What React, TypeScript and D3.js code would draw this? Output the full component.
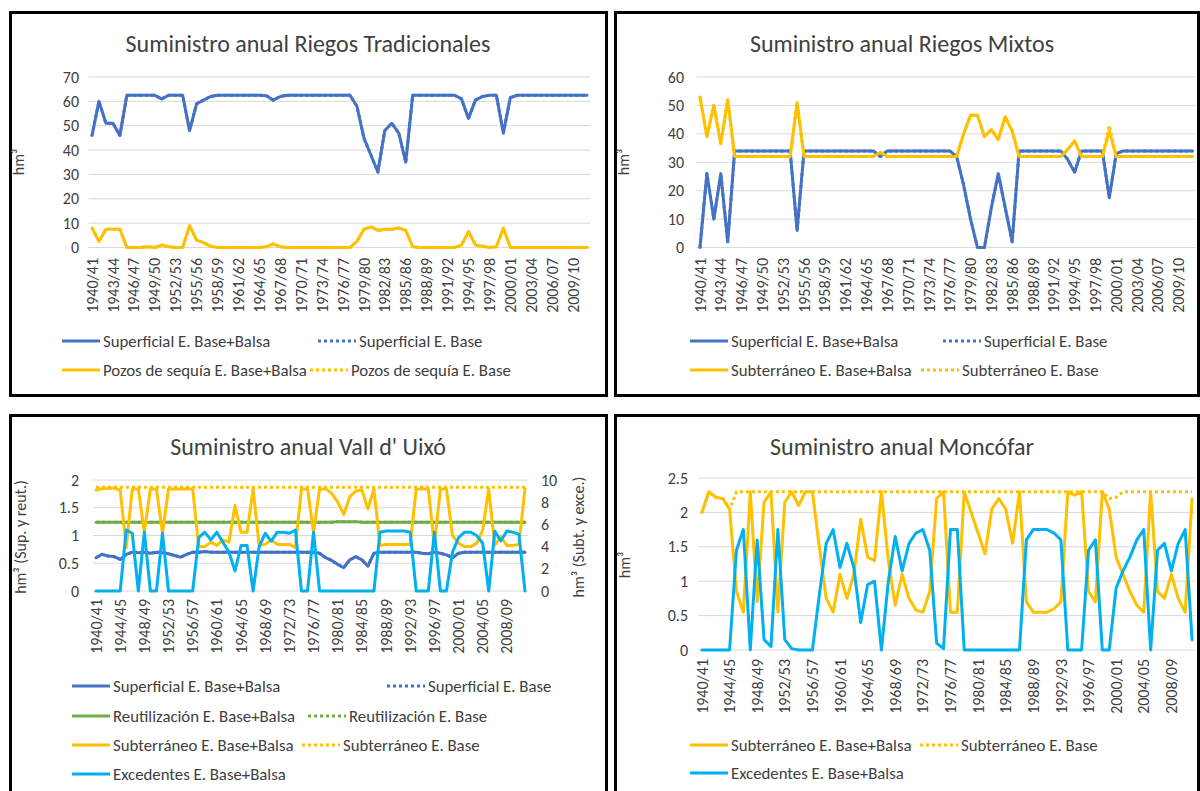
import React from "react";
import * as d3 from "d3";

const FONT = "Carlito, Calibri, Lato, 'Noto Sans', sans-serif";
const C_BLUE = "#4472C4";
const C_YEL = "#FFC000";
const C_GRN = "#70AD47";
const C_LBL = "#00B0F0";

const years = [
  "1940/41","1941/42","1942/43","1943/44","1944/45","1945/46","1946/47","1947/48","1948/49","1949/50",
  "1950/51","1951/52","1952/53","1953/54","1954/55","1955/56","1956/57","1957/58","1958/59","1959/60",
  "1960/61","1961/62","1962/63","1963/64","1964/65","1965/66","1966/67","1967/68","1968/69","1969/70",
  "1970/71","1971/72","1972/73","1973/74","1974/75","1975/76","1976/77","1977/78","1978/79","1979/80",
  "1980/81","1981/82","1982/83","1983/84","1984/85","1985/86","1986/87","1987/88","1988/89","1989/90",
  "1990/91","1991/92","1992/93","1993/94","1994/95","1995/96","1996/97","1997/98","1998/99","1999/00",
  "2000/01","2001/02","2002/03","2003/04","2004/05","2005/06","2006/07","2007/08","2008/09","2009/10",
  "2010/11","2011/12"
];

// ---- Riegos Tradicionales ----
const rtTicks = [0, 10, 20, 30, 40, 50, 60, 70];
const rtSup = [46, 60, 51, 51, 46, 62.5, 62.5, 62.5, 62.5, 62.5,
  61, 62.5, 62.5, 62.5, 48, 59, 60.5, 62, 62.5, 62.5,
  62.5, 62.5, 62.5, 62.5, 62.5, 62.3, 60.5, 62, 62.5, 62.5,
  62.5, 62.5, 62.5, 62.5, 62.5, 62.5, 62.5, 62.5, 58, 45,
  38, 31, 48, 51, 47, 35, 62.5, 62.5, 62.5, 62.5,
  62.5, 62.5, 62.5, 61, 53, 60.5, 62, 62.5, 62.5, 47,
  61.5, 62.5, 62.5, 62.5, 62.5, 62.5, 62.5, 62.5, 62.5, 62.5,
  62.5, 62.5];
const rtSupBase = [46, 60, 51, 51, 46, 62.5, 62.5, 62.5, 62.5, 62.5,
  61, 62.5, 62.5, 62.5, 48, 59, 60.5, 62, 62.5, 62.5,
  62.5, 62.5, 62.5, 62.5, 62.5, 62.3, 60.5, 62, 62.5, 62.5,
  62.5, 62.5, 62.5, 62.5, 62.5, 62.5, 62.5, 62.5, 58, 45,
  38, 31, 48, 51, 47, 35, 62.5, 62.5, 62.5, 62.5,
  62.5, 62.5, 62.5, 61, 53, 60.5, 62, 62.5, 62.5, 47,
  61.5, 62.5, 62.5, 62.5, 62.5, 62.5, 62.5, 62.5, 62.5, 62.5,
  62.5, 62.5];
const rtPozos = [8, 2.5, 7.5, 7.5, 7.5, 0, 0, 0, 0.3, 0,
  1, 0.3, 0, 0, 9, 3, 2, 0.5, 0, 0,
  0, 0, 0, 0, 0, 0.3, 1.5, 0.3, 0, 0,
  0, 0, 0, 0, 0, 0, 0, 0, 2.5, 7.5,
  8.5, 7, 7.5, 7.5, 8, 7, 0.3, 0, 0, 0,
  0, 0, 0, 1, 6.5, 1, 0.5, 0, 0.3, 8,
  0, 0, 0, 0, 0, 0, 0, 0, 0, 0,
  0, 0];
const rtPozosBase = [8, 2.5, 7.5, 7.5, 7.5, 0, 0, 0, 0.3, 0,
  1, 0.3, 0, 0, 9, 3, 2, 0.5, 0, 0,
  0, 0, 0, 0, 0, 0.3, 1.5, 0.3, 0, 0,
  0, 0, 0, 0, 0, 0, 0, 0, 2.5, 7.5,
  8.5, 7, 7.5, 7.5, 8, 7, 0.3, 0, 0, 0,
  0, 0, 0, 1, 6.5, 1, 0.5, 0, 0.3, 8,
  0, 0, 0, 0, 0, 0, 0, 0, 0, 0,
  0, 0];

// ---- Riegos Mixtos ----
const rmTicks = [0, 10, 20, 30, 40, 50, 60];
const rmSup = [0, 26, 10, 26, 2, 34, 34, 34, 34, 34,
  34, 34, 34, 34, 6, 34, 34, 34, 34, 34,
  34, 34, 34, 34, 34, 34, 32, 34, 34, 34,
  34, 34, 34, 34, 34, 34, 34, 32, 22, 10,
  0, 0, 14, 26, 14, 2, 34, 34, 34, 34,
  34, 34, 34, 31, 26.5, 34, 34, 34, 34, 17.5,
  33, 34, 34, 34, 34, 34, 34, 34, 34, 34,
  34, 34];
const rmSupBase = [0, 26, 10, 26, 2, 34, 34, 34, 34, 34,
  34, 34, 34, 34, 6, 34, 34, 34, 34, 34,
  34, 34, 34, 34, 34, 34, 32, 34, 34, 34,
  34, 34, 34, 34, 34, 34, 34, 32, 22, 10,
  0, 0, 14, 26, 14, 2, 34, 34, 34, 34,
  34, 34, 34, 31, 26.5, 34, 34, 34, 34, 17.5,
  33, 34, 34, 34, 34, 34, 34, 34, 34, 34,
  34, 34];
const rmSub = [53, 39, 50, 36.5, 52, 32, 32, 32, 32, 32,
  32, 32, 32, 32, 51, 32, 32, 32, 32, 32,
  32, 32, 32, 32, 32, 32, 33.5, 32, 32, 32,
  32, 32, 32, 32, 32, 32, 32, 32, 40, 46.5,
  46.5, 39, 41.5, 38, 46, 41, 32, 32, 32, 32,
  32, 32, 32, 34.5, 37.5, 32, 32, 32, 32, 41,
  32, 32, 32, 32, 32, 32, 32, 32, 32, 32,
  32, 32];
const rmSubBase = [53, 39, 50, 36.5, 52, 32, 32, 32, 32, 32,
  32, 32, 32, 32, 51, 32, 32, 32, 32, 32,
  32, 32, 32, 32, 32, 32, 33.5, 32, 32, 32,
  32, 32, 32, 32, 32, 32, 32, 32, 40, 46.5,
  46.5, 39, 41.5, 38, 46, 41, 32, 32, 32, 32,
  32, 32, 32, 34.5, 37.5, 32, 32, 32, 32, 43,
  32, 32, 32, 32, 32, 32, 32, 32, 32, 32,
  32, 32];

// ---- Vall d' Uixó ----
const vuTicksL = [0, 0.5, 1, 1.5, 2];
const vuTicksR = [0, 2, 4, 6, 8, 10];
const vuSup = [0.6, 0.66, 0.63, 0.62, 0.57, 0.66, 0.7, 0.69, 0.7, 0.68,
  0.7, 0.69, 0.67, 0.64, 0.61, 0.66, 0.7, 0.7, 0.71, 0.7,
  0.7, 0.7, 0.7, 0.7, 0.7, 0.7, 0.7, 0.7, 0.7, 0.7,
  0.7, 0.7, 0.7, 0.7, 0.7, 0.7, 0.7, 0.68, 0.6, 0.55,
  0.48, 0.42, 0.56, 0.62, 0.56, 0.45, 0.68, 0.7, 0.7, 0.7,
  0.7, 0.7, 0.7, 0.7, 0.68, 0.67, 0.7, 0.68, 0.65, 0.6,
  0.68, 0.7, 0.7, 0.7, 0.7, 0.7, 0.7, 0.7, 0.7, 0.7,
  0.7, 0.7];
const vuSupBase = [0.6, 0.66, 0.63, 0.62, 0.57, 0.66, 0.7, 0.69, 0.7, 0.68,
  0.7, 0.69, 0.67, 0.64, 0.61, 0.66, 0.7, 0.7, 0.71, 0.7,
  0.7, 0.7, 0.7, 0.7, 0.7, 0.7, 0.7, 0.7, 0.7, 0.7,
  0.7, 0.7, 0.7, 0.7, 0.7, 0.7, 0.7, 0.68, 0.6, 0.55,
  0.48, 0.42, 0.56, 0.62, 0.56, 0.45, 0.68, 0.7, 0.7, 0.7,
  0.7, 0.7, 0.7, 0.7, 0.68, 0.67, 0.7, 0.68, 0.65, 0.6,
  0.68, 0.7, 0.7, 0.7, 0.7, 0.7, 0.7, 0.7, 0.7, 0.7,
  0.7, 0.7];
const vuReu = [1.24, 1.24, 1.24, 1.24, 1.24, 1.24, 1.24, 1.24, 1.24, 1.24,
  1.24, 1.24, 1.24, 1.24, 1.24, 1.24, 1.24, 1.24, 1.24, 1.24,
  1.24, 1.24, 1.24, 1.24, 1.24, 1.24, 1.24, 1.24, 1.24, 1.24,
  1.24, 1.24, 1.24, 1.24, 1.24, 1.24, 1.24, 1.24, 1.24, 1.24,
  1.25, 1.25, 1.25, 1.25, 1.24, 1.24, 1.24, 1.24, 1.24, 1.24,
  1.24, 1.24, 1.24, 1.24, 1.24, 1.24, 1.24, 1.24, 1.24, 1.24,
  1.24, 1.24, 1.24, 1.24, 1.24, 1.24, 1.24, 1.24, 1.24, 1.24,
  1.24, 1.24];
const vuReuBase = [1.24, 1.24, 1.24, 1.24, 1.24, 1.24, 1.24, 1.24, 1.24, 1.24,
  1.24, 1.24, 1.24, 1.24, 1.24, 1.24, 1.24, 1.24, 1.24, 1.24,
  1.24, 1.24, 1.24, 1.24, 1.24, 1.24, 1.24, 1.24, 1.24, 1.24,
  1.24, 1.24, 1.24, 1.24, 1.24, 1.24, 1.24, 1.24, 1.24, 1.24,
  1.25, 1.25, 1.25, 1.25, 1.24, 1.24, 1.24, 1.24, 1.24, 1.24,
  1.24, 1.24, 1.24, 1.24, 1.24, 1.24, 1.24, 1.24, 1.24, 1.24,
  1.24, 1.24, 1.24, 1.24, 1.24, 1.24, 1.24, 1.24, 1.24, 1.24,
  1.24, 1.24];
const vuSub = [9.1, 9.2, 9.25, 9.25, 9.1, 3.9, 9.2, 9.2, 5.3, 9.2,
  9.2, 5.2, 9.2, 9.2, 9.2, 9.2, 9.2, 4.0, 4.0, 4.4,
  4.1, 4.6, 4.4, 7.7, 5.3, 5.3, 9.2, 4.1, 4.2, 4.6,
  4.2, 4.2, 4.2, 3.9, 9.2, 9.2, 5.3, 9.2, 9.2, 8.8,
  8.0, 6.9, 8.5, 9.0, 9.1, 7.4, 9.2, 4.1, 4.2, 4.2,
  4.2, 4.2, 4.2, 9.2, 9.2, 9.2, 4.1, 9.2, 9.2, 5.0,
  4.3, 4.0, 4.0, 4.3, 5.5, 9.2, 4.1, 4.9, 4.1, 4.1,
  4.2, 9.2];
const vuSubBase = [9.35, 9.35, 9.35, 9.35, 9.35, 9.35, 9.35, 9.35, 9.35, 9.35,
  9.35, 9.35, 9.35, 9.35, 9.35, 9.35, 9.35, 9.35, 9.35, 9.35,
  9.35, 9.35, 9.35, 9.35, 9.35, 9.35, 9.35, 9.35, 9.35, 9.35,
  9.35, 9.35, 9.35, 9.35, 9.35, 9.35, 9.35, 9.35, 9.35, 9.35,
  9.35, 9.35, 9.35, 9.35, 9.35, 9.35, 9.35, 9.35, 9.35, 9.35,
  9.35, 9.35, 9.35, 9.35, 9.35, 9.35, 9.35, 9.35, 9.35, 9.35,
  9.35, 9.35, 9.35, 9.35, 9.35, 9.35, 9.35, 9.35, 9.35, 9.35,
  9.35, 9.35];
const vuExc = [0, 0, 0, 0, 0, 5.5, 5.2, 0, 5.3, 0,
  0, 5.2, 0, 0, 0, 0, 0, 4.8, 5.3, 4.6,
  5.3, 4.4, 3.5, 1.8, 4.1, 4.1, 0, 4.0, 5.2, 4.5,
  5.3, 5.3, 5.2, 5.5, 0, 0, 5.3, 0, 0, 0,
  0, 0, 0, 0, 0, 0, 0, 5.3, 5.4, 5.4,
  5.4, 5.4, 5.3, 0, 0, 0, 5.3, 0, 0, 3.5,
  4.8, 5.3, 5.3, 5.0, 4.3, 0, 5.4, 4.5, 5.4, 5.3,
  5.1, 0];

// ---- Moncófar ----
const moTicks = [0, 0.5, 1, 1.5, 2, 2.5];
const moSub = [2.0, 2.3, 2.22, 2.2, 2.05, 0.85, 0.55, 2.3, 0.7, 2.15,
  2.3, 0.55, 2.15, 2.3, 2.1, 2.3, 2.3, 1.5, 0.75, 0.55,
  1.1, 0.75, 1.1, 1.9, 1.35, 1.3, 2.3, 1.3, 0.65, 1.1,
  0.75, 0.58, 0.55, 0.85, 2.2, 2.3, 0.55, 0.55, 2.3, 2.0,
  1.7, 1.4, 2.05, 2.2, 2.05, 1.55, 2.3, 0.7, 0.55, 0.55,
  0.55, 0.6, 0.7, 2.3, 2.25, 2.3, 0.85, 0.7, 2.3, 2.05,
  1.35, 1.1, 0.85, 0.65, 0.55, 2.3, 0.85, 0.75, 1.1, 0.75,
  0.55, 2.2];
const moSubBase = [2.0, 2.3, 2.22, 2.2, 2.05, 2.3, 2.3, 2.3, 2.3, 2.3,
  2.3, 2.3, 2.3, 2.3, 2.3, 2.3, 2.3, 2.3, 2.3, 2.3,
  2.3, 2.3, 2.3, 2.3, 2.3, 2.3, 2.3, 2.3, 2.3, 2.3,
  2.3, 2.3, 2.3, 2.3, 2.3, 2.3, 2.3, 2.3, 2.3, 2.3,
  2.3, 2.3, 2.3, 2.3, 2.3, 2.3, 2.3, 2.3, 2.3, 2.3,
  2.3, 2.3, 2.3, 2.3, 2.3, 2.3, 2.3, 2.3, 2.3, 2.2,
  2.22, 2.3, 2.3, 2.3, 2.3, 2.3, 2.3, 2.3, 2.3, 2.3,
  2.3, 2.3];
const moExc = [0, 0, 0, 0, 0, 1.45, 1.75, 0, 1.6, 0.15,
  0.05, 1.75, 0.15, 0.02, 0, 0, 0, 0.8, 1.55, 1.75,
  1.2, 1.55, 1.2, 0.4, 0.95, 1.0, 0, 1.0, 1.65, 1.15,
  1.55, 1.7, 1.75, 1.45, 0.1, 0.02, 1.75, 1.75, 0, 0,
  0, 0, 0, 0, 0, 0, 0, 1.6, 1.75, 1.75,
  1.75, 1.7, 1.6, 0, 0, 0, 1.45, 1.6, 0, 0,
  0.9, 1.15, 1.35, 1.6, 1.75, 0, 1.45, 1.55, 1.15, 1.55,
  1.75, 0.15];

type Series = { values: number[]; color: string; dotted?: boolean; right?: boolean };
type Leg = { label: string; color: string; dotted?: boolean; x: number; y: number };
type Cfg = {
  box: number[];
  title: string; titleX: number; titleY: number;
  gx0: number; gx1: number; yBot: number; yTop: number;
  yL: number[]; ticksL: number[]; tickLX: number;
  yR?: number[]; ticksR?: number[]; tickRX?: number;
  titleL: string; titleLX: number; titleLY: number;
  titleR?: string; titleRX?: number; titleRY?: number;
  every: number; labelTop: number;
  series: Series[];
  legend: Leg[];
};

const TXT = "#404040";
const FS_TITLE = 24;
const FS_TICK = 16;
const FS_LEG = 16.8;
const FS_AX = 16;

function Panel({ c }: { c: Cfg }) {
  const x = d3.scalePoint<string>().domain(years).range([c.gx0, c.gx1]).padding(0.5);
  const yL = d3.scaleLinear().domain(c.yL).range([c.yBot, c.yTop]);
  const yR = c.yR ? d3.scaleLinear().domain(c.yR).range([c.yBot, c.yTop]) : yL;
  return (
    <g>
      <rect x={c.box[0]} y={c.box[1]} width={c.box[2]} height={c.box[3]} fill="#fff" stroke="#000" strokeWidth={3} />
      <text x={c.titleX} y={c.titleY} textAnchor="middle" fontSize={FS_TITLE} fill={TXT}>{c.title}</text>
      {c.ticksL.map((t) => (
        <line key={"g" + t} x1={c.gx0} x2={c.gx1} y1={yL(t)} y2={yL(t)} stroke="#d9d9d9" strokeWidth={1} />
      ))}
      {c.ticksL.map((t) => (
        <text key={"tl" + t} x={c.tickLX} y={yL(t)} dy="0.35em" textAnchor="end" fontSize={FS_TICK} fill={TXT}>{String(t)}</text>
      ))}
      {c.ticksR && c.ticksR.map((t) => (
        <text key={"tr" + t} x={c.tickRX} y={yR(t)} dy="0.35em" textAnchor="start" fontSize={FS_TICK} fill={TXT}>{String(t)}</text>
      ))}
      <text transform={`translate(${c.titleLX},${c.titleLY}) rotate(-90)`} textAnchor="middle" fontSize={FS_AX} fill={TXT}>{c.titleL}</text>
      {c.titleR && (
        <text transform={`translate(${c.titleRX},${c.titleRY}) rotate(-90)`} textAnchor="middle" fontSize={FS_AX} fill={TXT}>{c.titleR}</text>
      )}
      {years.map((yr, i) => i % c.every === 0 ? (
        <text key={yr} transform={`translate(${x(yr)},${c.labelTop}) rotate(-90)`} textAnchor="end" dy="0.35em" fontSize={FS_TICK} fill={TXT}>{yr}</text>
      ) : null)}
      {c.series.map((s, k) => {
        const sc = s.right ? yR : yL;
        const line = d3.line<number>().x((_, i) => x(years[i]) as number).y((d) => sc(d));
        return (
          <path key={k} d={line(s.values) || ""} fill="none" stroke={s.color} strokeWidth={3}
            strokeLinejoin="round" strokeLinecap={s.dotted ? "butt" : "round"}
            strokeDasharray={s.dotted ? "3 3" : undefined} />
        );
      })}
      {c.legend.map((l, k) => (
        <g key={"l" + k}>
          <line x1={l.x} x2={l.x + 38} y1={l.y} y2={l.y} stroke={l.color} strokeWidth={3}
            strokeDasharray={l.dotted ? "3 3" : undefined} />
          <text x={l.x + 41} y={l.y} dy="0.35em" fontSize={FS_LEG} fill={TXT}>{l.label}</text>
        </g>
      ))}
    </g>
  );
}

const panels: Cfg[] = [
  {
    box: [10.5, 12.5, 596, 383],
    title: "Suministro anual Riegos Tradicionales", titleX: 308, titleY: 52,
    gx0: 88.5, gx1: 590.5, yBot: 247.5, yTop: 77,
    yL: [0, 70], ticksL: rtTicks, tickLX: 79,
    titleL: "hm³", titleLX: 24, titleLY: 162,
    every: 3, labelTop: 258,
    series: [
      { values: rtSup, color: C_BLUE },
      { values: rtSupBase, color: C_BLUE, dotted: true },
      { values: rtPozos, color: C_YEL },
      { values: rtPozosBase, color: C_YEL, dotted: true },
    ],
    legend: [
      { label: "Superficial E. Base+Balsa", color: C_BLUE, x: 62, y: 341 },
      { label: "Superficial E. Base", color: C_BLUE, dotted: true, x: 318, y: 341 },
      { label: "Pozos de sequía E. Base+Balsa", color: C_YEL, x: 62, y: 370 },
      { label: "Pozos de sequía E. Base", color: C_YEL, dotted: true, x: 310, y: 370 },
    ],
  },
  {
    box: [615.5, 12.5, 583, 383],
    title: "Suministro anual Riegos Mixtos", titleX: 902, titleY: 52,
    gx0: 696.5, gx1: 1196, yBot: 247.5, yTop: 77,
    yL: [0, 60], ticksL: rmTicks, tickLX: 684,
    titleL: "hm³", titleLX: 629, titleLY: 162,
    every: 3, labelTop: 258,
    series: [
      { values: rmSup, color: C_BLUE },
      { values: rmSupBase, color: C_BLUE, dotted: true },
      { values: rmSub, color: C_YEL },
      { values: rmSubBase, color: C_YEL, dotted: true },
    ],
    legend: [
      { label: "Superficial E. Base+Balsa", color: C_BLUE, x: 690, y: 341 },
      { label: "Superficial E. Base", color: C_BLUE, dotted: true, x: 943, y: 341 },
      { label: "Subterráneo E. Base+Balsa", color: C_YEL, x: 690, y: 370 },
      { label: "Subterráneo E. Base", color: C_YEL, dotted: true, x: 921, y: 370 },
    ],
  },
  {
    box: [10.5, 415.5, 596, 390],
    title: "Suministro anual Vall d' Uixó", titleX: 308, titleY: 455,
    gx0: 93, gx1: 528, yBot: 591, yTop: 480,
    yL: [0, 2], ticksL: vuTicksL, tickLX: 79,
    yR: [0, 10], ticksR: vuTicksR, tickRX: 541,
    titleL: "hm³ (Sup. y reut.)", titleLX: 26, titleLY: 537,
    titleR: "hm³ (Subt. y exce.)", titleRX: 584, titleRY: 537,
    every: 4, labelTop: 599,
    series: [
      { values: vuSup, color: C_BLUE },
      { values: vuSupBase, color: C_BLUE, dotted: true },
      { values: vuReu, color: C_GRN },
      { values: vuReuBase, color: C_GRN, dotted: true },
      { values: vuSub, color: C_YEL, right: true },
      { values: vuSubBase, color: C_YEL, dotted: true, right: true },
      { values: vuExc, color: C_LBL, right: true },
    ],
    legend: [
      { label: "Superficial E. Base+Balsa", color: C_BLUE, x: 72, y: 686 },
      { label: "Superficial E. Base", color: C_BLUE, dotted: true, x: 387, y: 686 },
      { label: "Reutilización E. Base+Balsa", color: C_GRN, x: 72, y: 716 },
      { label: "Reutilización E. Base", color: C_GRN, dotted: true, x: 308, y: 716 },
      { label: "Subterráneo E. Base+Balsa", color: C_YEL, x: 72, y: 745 },
      { label: "Subterráneo E. Base", color: C_YEL, dotted: true, x: 302, y: 745 },
      { label: "Excedentes E. Base+Balsa", color: C_LBL, x: 72, y: 774 },
    ],
  },
  {
    box: [615.5, 415.5, 583, 390],
    title: "Suministro anual Moncófar", titleX: 902, titleY: 455,
    gx0: 698.5, gx1: 1195.5, yBot: 650, yTop: 478,
    yL: [0, 2.5], ticksL: moTicks, tickLX: 688,
    titleL: "hm³", titleLX: 630, titleLY: 565,
    every: 4, labelTop: 659,
    series: [
      { values: moSub, color: C_YEL },
      { values: moSubBase, color: C_YEL, dotted: true },
      { values: moExc, color: C_LBL },
    ],
    legend: [
      { label: "Subterráneo E. Base+Balsa", color: C_YEL, x: 690, y: 745 },
      { label: "Subterráneo E. Base", color: C_YEL, dotted: true, x: 920, y: 745 },
      { label: "Excedentes E. Base+Balsa", color: C_LBL, x: 690, y: 773 },
    ],
  },
];

export default function App() {
  return (
    <svg width={1200} height={791} viewBox="0 0 1200 791"
      style={{ position: "absolute", left: 0, top: 0, fontFamily: FONT, background: "#fff" }}>
      <rect x={0} y={0} width={1200} height={791} fill="#fff" />
      {panels.map((p, i) => <Panel key={i} c={p} />)}
    </svg>
  );
}
